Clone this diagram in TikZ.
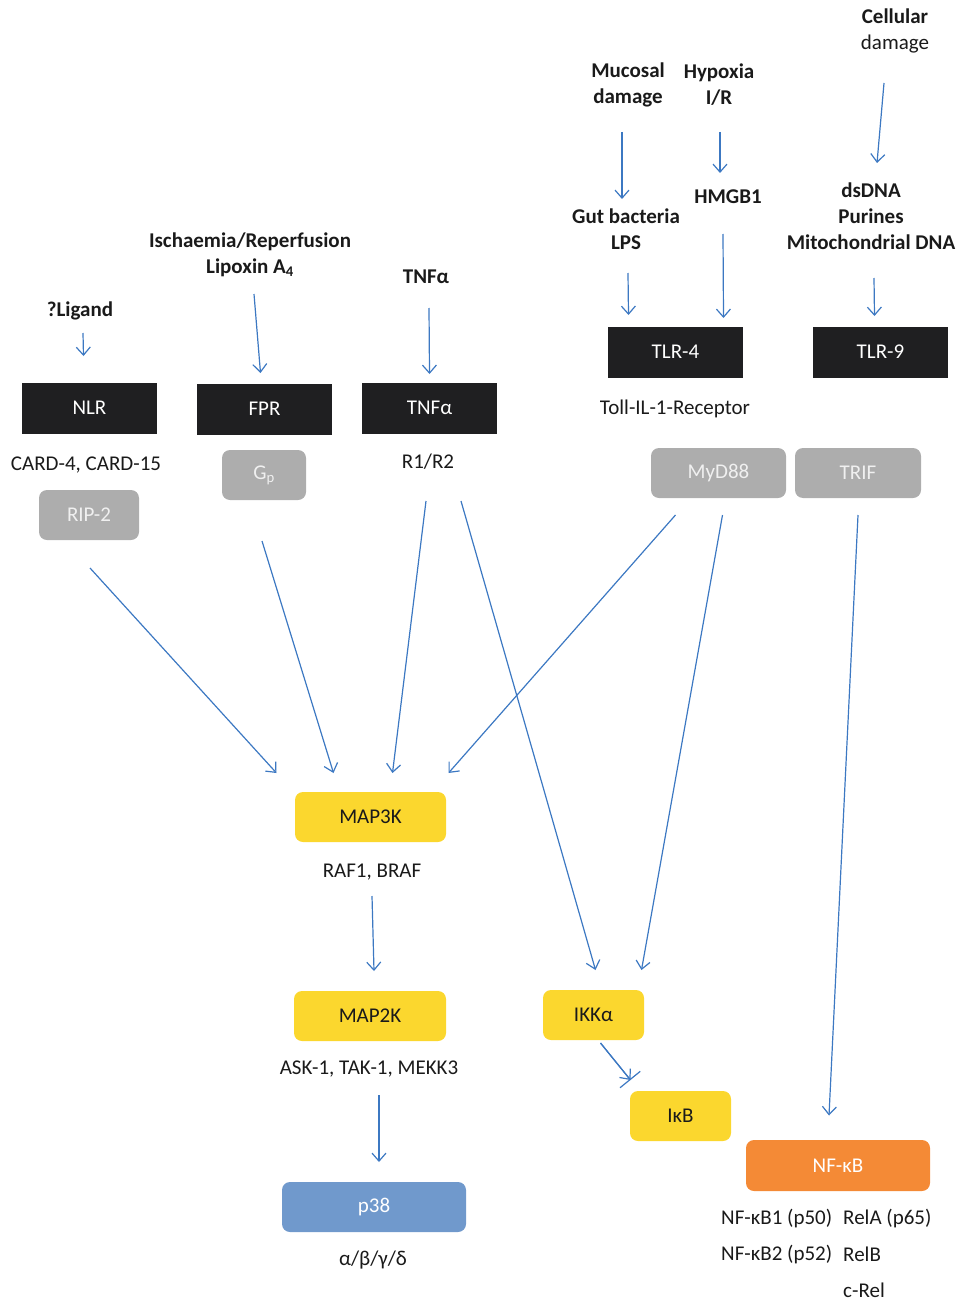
\documentclass[tikz,border=0pt]{standalone}
\usepackage{fontspec}
\setmainfont{Carlito}
\usepackage{tikz}
\usetikzlibrary{arrows.meta, calc}
\definecolor{recblack}{HTML}{1F1F21}
\definecolor{adaptgray}{HTML}{ADADAD}
\definecolor{kinyellow}{HTML}{FBD72E}
\definecolor{pblue}{HTML}{7099CC}
\definecolor{nforange}{HTML}{F48A36}
\definecolor{arrowblue}{HTML}{3C78C2}
\definecolor{txtdark}{HTML}{1A1A1A}

\begin{document}
\begin{tikzpicture}[
    x=1pt, y=-1pt,
    every node/.style={font=\fontsize{21}{26}\selectfont, text=txtdark, align=center, inner sep=0pt},
    trigger/.style={font=\fontsize{21}{26}\selectfont\bfseries},
    receptor/.style={rectangle, fill=recblack, text=white, minimum width=135pt, minimum height=51pt},
    adaptor/.style={rectangle, fill=adaptgray, text=white!94!black, minimum height=50pt,
                    rounded corners=8pt},
    kinase/.style={rectangle, fill=#1, minimum height=50pt, rounded corners=8pt},
    kinase/.default=kinyellow,
    arrow/.style={-{Straight Barb[length=8pt,width=14pt]}, line width=1.2pt, arrowblue},
    cutarrow/.style={arrow, postaction={draw, -{Bar[width=26pt]}}}
]
\useasboundingbox (0,0) rectangle (960,1300);

% Triggers
\node[trigger] at (895,31) (cell) {Cellular\\\mdseries damage};
\node[trigger] at (628,85) (mucosal) {Mucosal\\damage};
\node[trigger] at (719,85) (hypoxia) {Hypoxia\\I/R};
\node[trigger] at (626,229) (gut) {Gut bacteria\\LPS};
\node[trigger] at (728,197) (hmgb) {HMGB1};
\node[trigger] at (871,216) (dsdna) {dsDNA\\Purines\\Mitochondrial DNA};
\node[trigger] at (250,255) (isch) {Ischaemia/Reperfusion\\Lipoxin A\textsubscript{4}};
\node[trigger] at (426,277) (tnf) {TNFα};
\node[trigger] at (80,311) (ligand) {?Ligand};

% Receptors
\node[receptor] at (89.5,408) (nlr) {NLR};
\node[receptor] at (264.5,409) (fpr) {FPR};
\node[receptor] at (429.5,408) (tnfr) {TNFα};
\node[receptor] at (675.5,352) (tlr4) {TLR-4};
\node[receptor] at (880.5,352) (tlr9) {TLR-9};

\node at (86,465) (card) {CARD-4, CARD-15};
\node at (428,462) (r1r2) {R1/R2};
\node at (675,409) (toll) {Toll-IL-1-Receptor};

% Adaptors
\node[adaptor, minimum width=100pt] at (89,515) (rip2) {RIP-2};
\node[adaptor, minimum width=84pt] at (264,475) (gp) {G\textsubscript{p}};
\node[adaptor, minimum width=135pt] at (718.5,473) (myd) {MyD88};
\node[adaptor, minimum width=126pt] at (858,473) (trif) {TRIF};

% Kinases
\node[kinase, minimum width=151pt] at (370.5,817) (map3k) {MAP3K};
\node at (372,872) (raf) {RAF1, BRAF};
\node[kinase, minimum width=152pt] at (370,1016) (map2k) {MAP2K};
\node at (369,1069) (ask) {ASK-1, TAK-1, MEKK3};
\node[kinase=pblue, minimum width=184pt, text=white] at (374,1207) (p38) {p38};
\node at (373,1260) (iso) {α/β/γ/δ};

\node[kinase, minimum width=101pt] at (593.5,1015) (ikk) {IKKα};
\node[kinase, minimum width=101pt] at (680.5,1116) (ikb) {IκB};
\node[kinase=nforange, minimum width=184pt, minimum height=51pt, text=white] at (838,1165.5) (nfkb)
    {NF-κB};

% NF-kB subunits
\node[anchor=west] at (721,1218) (p50) {NF-κB1 (p50)};
\node[anchor=west] at (843,1218) (rela) {RelA (p65)};
\node[anchor=west] at (721,1254) (p52) {NF-κB2 (p52)};
\node[anchor=west] at (843,1254) (relb) {RelB};
\node[anchor=west] at (843,1290) (crel) {c-Rel};

% Arrows
\draw[arrow] ($(cell)+(-11,52)$) -- ($(dsdna)+(6,-53)$);
\draw[arrow] ($(mucosal)+(-6,47)$) -- ($(gut)+(-4,-30)$);
\draw[arrow] ($(hypoxia)+(1,47)$) -- ($(hmgb)+(-8,-24)$);
\draw[arrow] ($(gut)+(2,44)$) -- ($(tlr4)+(-47,-37)$);
\draw[arrow] ($(hmgb)+(-5,37)$) -- ($(tlr4)+(48,-34)$);
\draw[arrow] ($(dsdna)+(3,62)$) -- ($(tlr9)+(-6,-36)$);
\draw[arrow] ($(ligand)+(3,22)$) -- ($(nlr)+(-6,-52)$);
\draw[arrow] ($(isch)+(4,39)$) -- ($(fpr)+(-4,-36)$);
\draw[arrow] ($(tnf)+(3,31)$) -- ($(tnfr)+(0,-34)$);

\draw[arrow] ($(rip2)+(1,53)$) -- ($(map3k)+(-94,-44)$);
\draw[arrow] ($(gp)+(-2,66)$) -- ($(map3k)+(-37,-44)$);
\draw[arrow] ($(r1r2)+(-2,39)$) -- ($(map3k)+(22,-44)$);
\draw[arrow] ($(r1r2)+(33,39)$) -- ($(ikk)+(2,-45)$);
\draw[arrow] ($(myd)+(-43,42)$) -- ($(map3k)+(78,-44)$);
\draw[arrow] ($(myd)+(4,42)$) -- ($(ikk)+(48,-45)$);
\draw[arrow] ($(trif)+(0,42)$) -- ($(nfkb)+(-9,-50)$);

\draw[arrow] ($(raf)+(0,24)$) -- ($(map2k)+(4,-45)$);
\draw[arrow] ($(ask)+(10,26)$) -- ($(p38)+(5,-45)$);
\draw[cutarrow] ($(ikk)+(7,28)$) -- ($(ikb)+(-50,-36)$);

\end{tikzpicture}
\end{document}
